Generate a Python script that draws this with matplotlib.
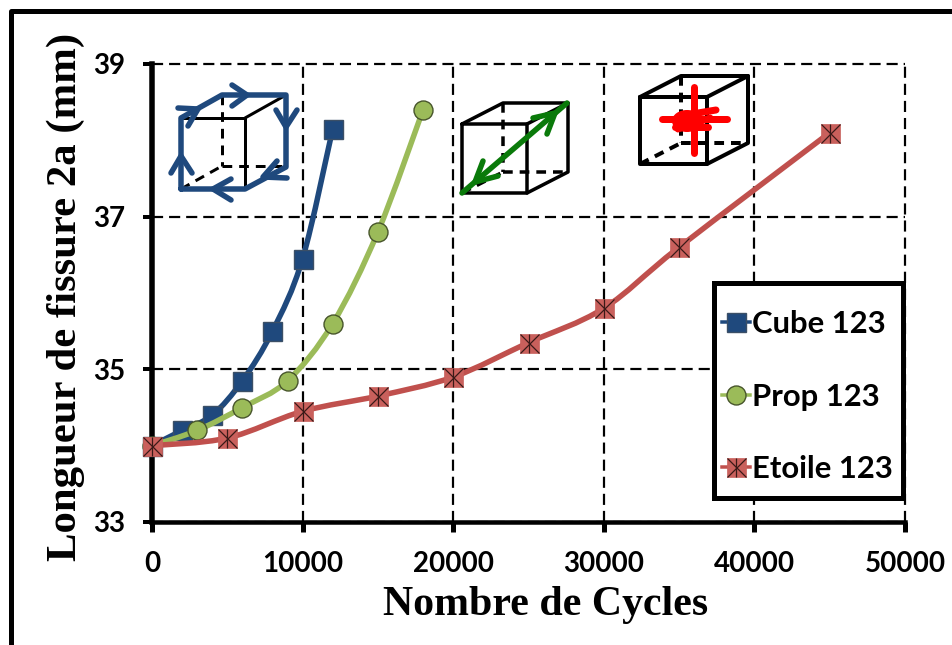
import matplotlib
matplotlib.use("Agg")
import matplotlib.pyplot as plt
from matplotlib.path import Path
from matplotlib.patches import PathPatch, Ellipse, Rectangle
from matplotlib.legend_handler import HandlerTuple
from matplotlib.lines import Line2D

cube_x = [0, 2000, 4000, 6000, 8000, 10000, 12000]
cube_y = [34.0, 34.2, 34.4, 34.85, 35.5, 36.45, 38.15]
prop_x = [0, 3000, 6000, 9000, 12000, 15000, 18000]
prop_y = [34.0, 34.2, 34.5, 34.85, 35.6, 36.8, 38.4]
etoile_x = [0, 5000, 10000, 15000, 20000, 25000, 30000, 35000, 45000]
etoile_y = [34.0, 34.1, 34.45, 34.65, 34.9, 35.35, 35.8, 36.6, 38.1]
x_ticks = [0, 10000, 20000, 30000, 40000, 50000]
y_ticks = [33, 35, 37, 39]
x_label = "Nombre de Cycles"
y_label = "Longueur de fissure 2a (mm)"

BLUE, GREEN, RED = "#1F497D", "#9BBB59", "#C0504D"
W, H = 952, 645
plt.rcParams["lines.scale_dashes"] = False
PX = 0.72
MS = 19 * PX

fig = plt.figure(figsize=(W / 100, H / 100), dpi=100)
ax = fig.add_axes([152 / W, 1 - 522 / H, (905 - 152) / W, (522 - 64) / H])
ax.set_xlim(0, 50000)
ax.set_ylim(33, 39)
ax.set_xticks(x_ticks)
ax.set_yticks(y_ticks)
ax.set_axisbelow(True)
for s in ("top", "right"):
    ax.spines[s].set_visible(False)
ax.spines["left"].set_linewidth(5.5 * PX)
ax.spines["bottom"].set_linewidth(4.5 * PX)
ax.tick_params(axis="x", length=10 * PX, width=5 * PX, pad=14)
ax.tick_params(axis="y", length=9 * PX, width=4 * PX, pad=13)
for lab in ax.get_xticklabels() + ax.get_yticklabels():
    lab.set_family("Lato")
    lab.set_weight("bold")
    lab.set_fontsize(20)
ax.grid(True, color="black", lw=2.2 * PX, linestyle=(0, (8, 4.3)))
for g in ax.get_xgridlines() + ax.get_ygridlines():
    g.set_clip_on(False)
fig.text(546 / W, 1 - 605 / H, x_label, family="Liberation Serif", weight="bold",
         fontsize=30.2, ha="center", va="center")
fig.text(65.5 / W, 1 - 297 / H, y_label, family="Liberation Serif", weight="bold",
         fontsize=30.8, ha="center", va="center", rotation=90)


def smooth(xs, ys):
    verts = [(xs[0], ys[0])]
    codes = [Path.MOVETO]
    n = len(xs)
    for i in range(n - 1):
        a, b = max(i - 1, 0), min(i + 2, n - 1)
        verts.append((xs[i] + (xs[i + 1] - xs[a]) / 6, ys[i] + (ys[i + 1] - ys[a]) / 6))
        verts.append((xs[i + 1] - (xs[b] - xs[i]) / 6, ys[i + 1] - (ys[b] - ys[i]) / 6))
        verts.append((xs[i + 1], ys[i + 1]))
        codes += [Path.CURVE4] * 3
    return Path(verts, codes)


def series(xs, ys, color, z):
    ax.add_patch(PathPatch(smooth(xs, ys), fc="none", ec=color, lw=5.5 * PX, zorder=z,
                           clip_on=False, capstyle="round"))


series(cube_x, cube_y, BLUE, 3)
ax.plot(cube_x, cube_y, ls="none", marker="s", ms=MS, mfc=BLUE, mec="#3b4f66",
        mew=1, zorder=3.1, clip_on=False)
series(prop_x, prop_y, GREEN, 4)
ax.plot(prop_x, prop_y, ls="none", marker="o", ms=MS, mfc=GREEN, mec="#47552b",
        mew=1, zorder=4.1, clip_on=False)
series(etoile_x, etoile_y, RED, 5)
ax.plot(etoile_x, etoile_y, ls="none", marker="s", ms=MS, mfc="#C9605C", mec="#C9605C",
        mew=0.5, zorder=5.1, clip_on=False)
ax.plot(etoile_x, etoile_y, ls="none", marker="x", ms=MS, mec="#3a1a18",
        mew=0.9, zorder=5.2, clip_on=False)
ax.plot(etoile_x, etoile_y, ls="none", marker="|", ms=MS, mec="#3a1a18",
        mew=0.9, zorder=5.3, clip_on=False)

# legend box: white panel with a heavy border, entries laid on top
ax.add_patch(Rectangle(((714 - 152) / 753, (522 - 498) / 458), (903 - 714) / 753, (498 - 283) / 458,
                       transform=ax.transAxes, fc="white", ec="black", lw=5 * PX, zorder=7,
                       clip_on=False))
h1 = Line2D([], [], color=BLUE, lw=3.5 * PX, marker="s", ms=MS, mfc=BLUE, mec="#3b4f66", mew=1)
h2 = Line2D([], [], color=GREEN, lw=3.5 * PX, marker="o", ms=MS, mfc=GREEN, mec="#47552b", mew=1)
h3a = Line2D([], [], color=RED, lw=3.5 * PX, marker="s", ms=MS, mfc="#C9605C", mec="#C9605C", mew=0.5)
h3b = Line2D([], [], ls="none", marker="x", ms=MS, mec="#3a1a18", mew=0.9)
h3c = Line2D([], [], ls="none", marker="|", ms=MS, mec="#3a1a18", mew=0.9)
leg = ax.legend([h1, h2, (h3a, h3b, h3c)], ["Cube 123", "Prop 123", "Etoile 123"],
                handler_map={tuple: HandlerTuple(ndivide=1, pad=0)},
                loc="upper left", bbox_to_anchor=((722 - 152) / 753, (522 - 310) / 458),
                borderaxespad=0, prop={"family": "Lato", "weight": "bold", "size": 22.3},
                labelspacing=1.44, handlelength=0.9, handletextpad=0.08, borderpad=0,
                frameon=False)
leg.set_zorder(8)

# overlay in pixel space for the cube sketches and the outer frame
ov = fig.add_axes([0, 0, 1, 1], zorder=10)
ov.set_xlim(0, W)
ov.set_ylim(H, 0)
ov.axis("off")


def pl(pts, color="black", px=3, dashed=False, z=2):
    xs, ys = zip(*pts)
    ov.plot(xs, ys, color=color, lw=px * PX, solid_capstyle="round", solid_joinstyle="round",
            dash_capstyle="butt", zorder=z, ls=(0, (7, 5)) if dashed else "-")


def cube(l, r, t, b, dx, dy, px):
    pl([(l, t), (r, t), (r, b), (l, b), (l, t)], px=px)
    pl([(l, t), (l + dx, t - dy), (r + dx, t - dy), (r + dx, b - dy), (r, b)], px=px)
    pl([(r, t), (r + dx, t - dy)], px=px)
    pl([(l + dx, t - dy), (l + dx, b - dy)], px=px, dashed=True)
    pl([(l + dx, b - dy), (r + dx, b - dy)], px=px, dashed=True)
    pl([(l, b), (l + dx, b - dy)], px=px, dashed=True)


cube(181, 245, 118, 189, 41, 23, 3)
cube(462, 527, 124, 193, 41, 21, 3.5)
cube(640, 707, 97, 164, 41, 21, 4)

LB = "#1F497D"
pl([(181, 189), (181, 118), (222, 95), (286, 95), (286, 167), (245, 189), (181, 189)], LB, 5.5, z=3)
for tip, a, b in [((247, 95), (232, 85), (232, 106)),
                  ((198, 109), (178, 108), (188, 126)),
                  ((286, 127), (276, 110), (297, 110)),
                  ((263, 177), (277, 161), (287, 178)),
                  ((213, 189), (231, 179), (231, 200)),
                  ((181, 156), (171, 173), (192, 173))]:
    pl([a, tip, b], LB, 5.5, z=3)

DG = "#0A7A0A"
pl([(462, 193), (567, 103)], DG, 5.5, z=3)
pl([(533, 118), (555, 113), (547, 134)], DG, 5.5, z=3)
pl([(483, 161), (475, 182), (498, 176)], DG, 5.5, z=3)

RD = "#FF0000"
for seg in [((694, 87), (694, 153)), ((662, 119), (727, 119)), ((675, 127), (708, 127)),
            ((680, 116), (716, 110)), ((678, 129), (710, 118))]:
    pl(list(seg), RD, 7, z=3)
ov.add_patch(Ellipse((687, 121), 30, 22, fc=RD, ec="none", zorder=3))

pl([(10.5, 645), (10.5, 10.5), (952, 10.5)], "black", 5, z=4)
pl([(13, 644.5), (952, 644.5)], "#e4e4e4", 1, z=1)

fig.savefig("out.png", dpi=100)
